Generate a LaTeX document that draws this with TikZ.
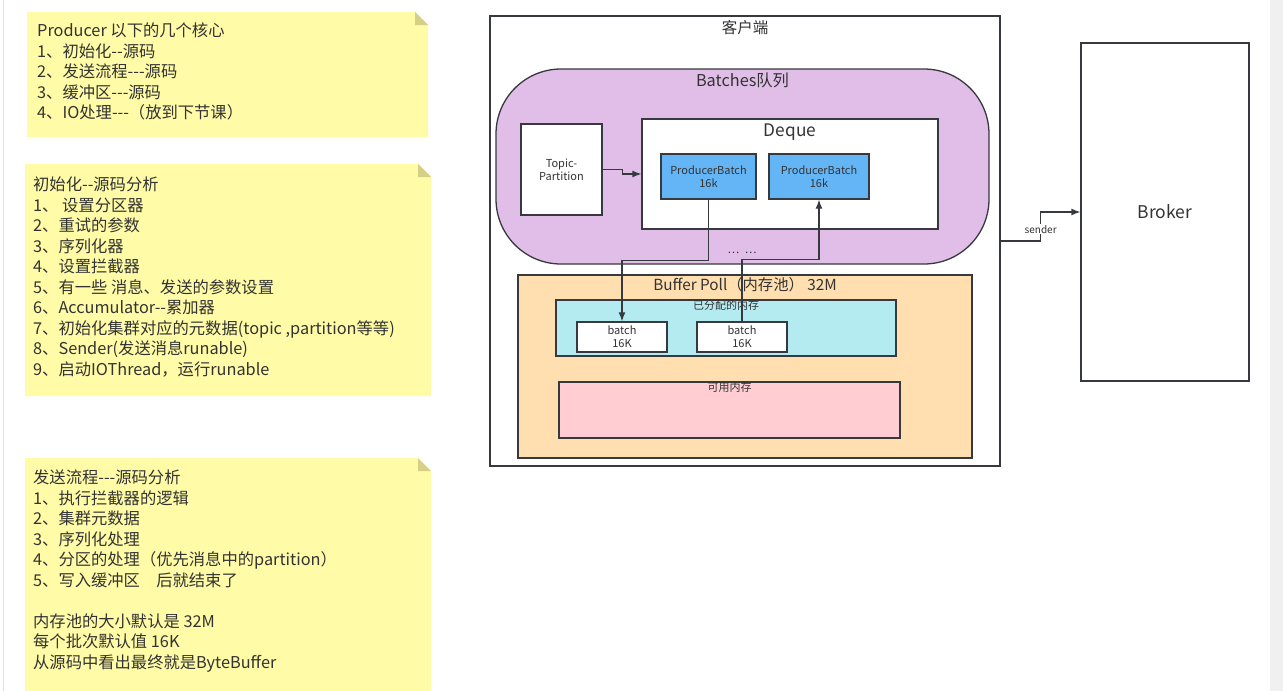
\documentclass[tikz,border=0pt]{standalone}
\usepackage{fontspec}
\setmainfont{Noto Sans CJK SC}[Ligatures=TeXOff]
\usepackage{tikz}
\usetikzlibrary{arrows.meta}

\definecolor{linec}{HTML}{36393D}
\definecolor{txtc}{HTML}{333333}
\definecolor{notec}{HTML}{FFFBA6}
\definecolor{foldc}{HTML}{D6CF86}
\definecolor{batchc}{HTML}{E1BEE7}
\definecolor{pbc}{HTML}{64B5F6}
\definecolor{poolc}{HTML}{FFDFAF}
\definecolor{allocc}{HTML}{B3EBF1}
\definecolor{freec}{HTML}{FFCDD2}

\begin{document}
\begin{tikzpicture}[x=1pt, y=-1pt,
    box/.style={draw=linec, line width=1.3pt, rectangle, inner sep=0pt, text=txtc, align=center},
    toplabel/.style={anchor=north, inner sep=0pt, text=txtc},
    notetext/.style={anchor=north west, inner sep=0pt, align=left, text=txtc, font=\fontsize{16.3}{20.5}\selectfont},
    small/.style={font=\fontsize{11}{13}\selectfont},
    link/.style={draw=linec, line width=1.3pt}]
    \useasboundingbox (0,0) rectangle (1283,691);
    \fill[white] (0,0) rectangle (1283,691);
    \fill[black!6] (1270,0) rectangle (1283,691);
    \draw[black!12, line width=1pt] (3.5,0) -- (3.5,691);

    \fill[notec] (27,12) -- (415,12) -- (428,25) -- (428,137) -- (27,137) -- cycle;
    \fill[foldc] (415,12) -- (428,25) -- (415,25) -- cycle;
    \fill[notec] (25,164) -- (418,164) -- (431,177) -- (431,396) -- (25,396) -- cycle;
    \fill[foldc] (418,164) -- (431,177) -- (418,177) -- cycle;
    \fill[notec] (25,458) -- (418,458) -- (431,471) -- (431,691) -- (25,691) -- cycle;
    \fill[foldc] (418,458) -- (431,471) -- (418,471) -- cycle;

    \node[notetext] (core) at (37,23) {Producer 以下的几个核心\\1、初始化--源码\\2、发送流程---源码\\3、缓冲区---源码\\4、IO处理---（放到下节课）};
    \node[notetext] (init) at (33,177) {初始化--源码分析\\1、 设置分区器\\2、重试的参数\\3、序列化器\\4、设置拦截器\\5、有一些 消息、发送的参数设置\\6、Accumulator--累加器\\7、初始化集群对应的元数据(topic ,partition等等)\\8、Sender(发送消息runable)\\9、启动IOThread，运行runable};
    \node[notetext] (send) at (33,470) {发送流程---源码分析\\1、执行拦截器的逻辑\\2、集群元数据\\3、序列化处理\\4、分区的处理（优先消息中的partition）\\5、写入缓冲区\quad 后就结束了\\[20.5pt]内存池的大小默认是 32M\\每个批次默认值 16K\\从源码中看出最终就是ByteBuffer};

    \node[box, fill=white, minimum width=510, minimum height=450,
        label={[toplabel, yshift=-5, font=\fontsize{15.5}{17}\selectfont]north:客户端}] (client) at (745,241) {};
    \node[box, fill=batchc, rounded corners=65pt, minimum width=493, minimum height=195,
        label={[toplabel, yshift=-4, font=\fontsize{16.3}{18}\selectfont]north:Batches队列}] (batches) at (742.5,166.5) {};
    \node[box, fill=white, small, minimum width=81, minimum height=91] (tp) at (561.5,169.5) {Topic-\\Partition};
    \node[box, fill=white, minimum width=296, minimum height=110,
        label={[toplabel, yshift=-5, font=\fontsize{17.3}{19}\selectfont]north:Deque}] (dq) at (790,174) {};
    \node[box, fill=pbc, small, minimum width=95, minimum height=45] (pb1) at (708.5,176.5) {ProducerBatch\\16k};
    \node[box, fill=pbc, small, minimum width=100, minimum height=45] (pb2) at (819,176.5) {ProducerBatch\\16k};
    \node[inner sep=0pt, text=txtc, small] (dots) at (742,253) {\char"2026\enspace\char"2026};

    \node[box, fill=poolc, minimum width=454, minimum height=183,
        label={[toplabel, yshift=-3, font=\fontsize{15.3}{17}\selectfont]north:Buffer Poll（内存池） 32M}] (pool) at (745,366.5) {};
    \node[box, fill=allocc, minimum width=340, minimum height=56,
        label={[toplabel, yshift=-1, small]north:已分配的内存}] (alloc) at (726,328) {};
    \node[box, fill=white, small, minimum width=90, minimum height=30] (b1) at (622,337) {batch\\16K};
    \node[box, fill=white, small, minimum width=90, minimum height=30] (b2) at (742,337) {batch\\16K};
    \node[box, fill=freec, minimum width=341, minimum height=56,
        label={[toplabel, yshift=-1, small]north:可用内存}] (free) at (729.5,410) {};

    \node[box, fill=white, minimum width=168, minimum height=338, font=\fontsize{17.5}{19}\selectfont] (broker) at (1165,212) {Broker};

    \draw[link, -{Latex[length=9pt, width=7pt]}] (tp.east) -- ++(20,0) |- (dq.west);
    \draw[link, -{Latex[length=9pt, width=7pt]}] (pb1.south) -- ++(0,61) -| (b1.north);
    \draw[link, -{Latex[length=9pt, width=7pt]}] (b2.north) -- ++(0,-62) -| (pb2.south);
    \draw[link, -{Latex[length=9pt, width=7pt]}] (client.east) -- ++(40,0) |- node[pos=0.2, fill=white, inner sep=1pt, text=txtc, font=\fontsize{10}{12}\selectfont]{sender} (broker.west);
\end{tikzpicture}
\end{document}
